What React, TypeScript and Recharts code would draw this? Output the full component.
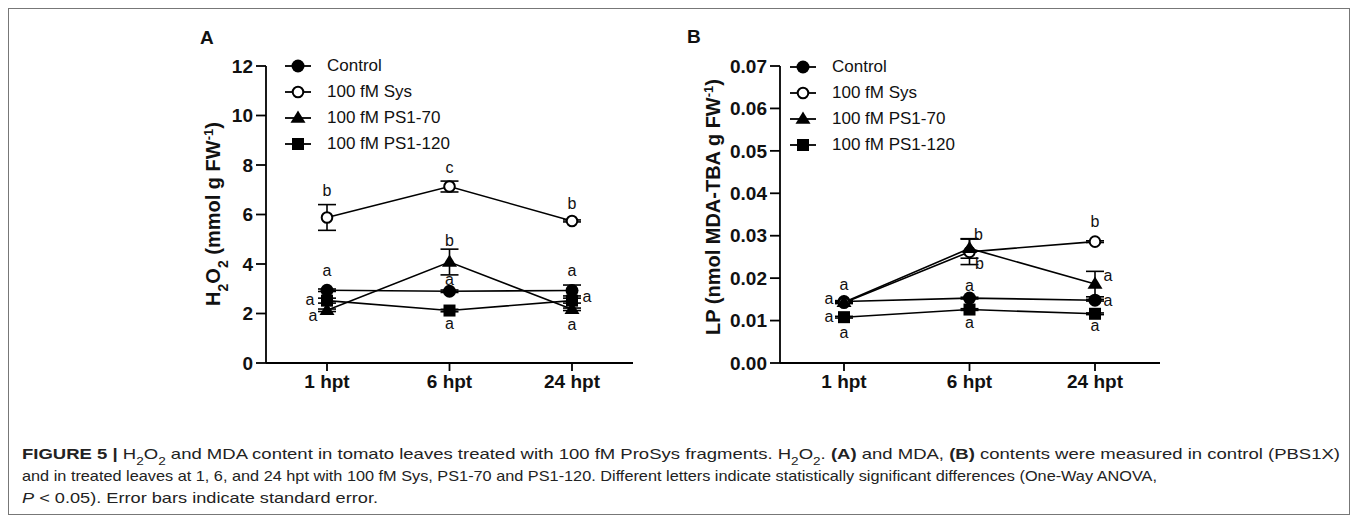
import React from "react";
import { LineChart, Line, XAxis, YAxis, ErrorBar, Legend, LabelList } from "recharts";

const times = ["1 hpt", "6 hpt", "24 hpt"];
const seriesNames = ["Control", "100 fM Sys", "100 fM PS1-70", "100 fM PS1-120"];

// panel A: H2O2 (mmol g FW-1)
const h2o2Ticks = [0, 2, 4, 6, 8, 10, 12];
const h2o2Control = [2.94, 2.9, 2.93];
const h2o2ControlSe = [0.05, 0.05, 0.22];
const h2o2Sys = [5.88, 7.13, 5.74];
const h2o2SysSe = [0.52, 0.22, 0.04];
const h2o2Ps70 = [2.13, 4.08, 2.17];
const h2o2Ps70Se = [0.05, 0.52, 0.05];
const h2o2Ps120 = [2.52, 2.12, 2.52];
const h2o2Ps120Se = [0.1, 0.05, 0.1];
const h2o2ControlLetters = ["a", "a", "a"];
const h2o2SysLetters = ["b", "c", "b"];
const h2o2Ps70Letters = ["a", "b", "a"];
const h2o2Ps120Letters = ["a", "a", "a"];

// panel B: LP (nmol MDA-TBA g FW-1)
const lpTicks = [0, 0.01, 0.02, 0.03, 0.04, 0.05, 0.06, 0.07];
const lpControl = [0.0145, 0.0153, 0.0148];
const lpControlSe = [0.0002, 0.0002, 0.0002];
const lpSys = [0.0142, 0.0262, 0.0286];
const lpSysSe = [0.0002, 0.003, 0.0002];
const lpPs70 = [0.0143, 0.027, 0.0186];
const lpPs70Se = [0.0002, 0.0023, 0.003];
const lpPs120 = [0.0108, 0.0126, 0.0116];
const lpPs120Se = [0.0002, 0.0002, 0.0002];
const lpControlLetters = ["a", "a", "a"];
const lpSysLetters = ["a", "b", "b"];
const lpPs70Letters = ["a", "b", "a"];
const lpPs120Letters = ["a", "a", "a"];

const FONT = "'Liberation Sans', Arial, Helvetica, sans-serif";
const keys = ["control", "sys", "ps70", "ps120"];
const shapes = ["circle", "open", "triangle", "square"];

const h2o2Data = times.map((time, i) => ({
  time,
  control: h2o2Control[i], controlSe: h2o2ControlSe[i], controlL: h2o2ControlLetters[i],
  sys: h2o2Sys[i], sysSe: h2o2SysSe[i], sysL: h2o2SysLetters[i],
  ps70: h2o2Ps70[i], ps70Se: h2o2Ps70Se[i], ps70L: h2o2Ps70Letters[i],
  ps120: h2o2Ps120[i], ps120Se: h2o2Ps120Se[i], ps120L: h2o2Ps120Letters[i],
}));

const lpData = times.map((time, i) => ({
  time,
  control: lpControl[i], controlSe: lpControlSe[i], controlL: lpControlLetters[i],
  sys: lpSys[i], sysSe: lpSysSe[i], sysL: lpSysLetters[i],
  ps70: lpPs70[i], ps70Se: lpPs70Se[i], ps70L: lpPs70Letters[i],
  ps120: lpPs120[i], ps120Se: lpPs120Se[i], ps120L: lpPs120Letters[i],
}));

// where each significance letter sits relative to its point [dx, dy]
const letterOffsetsA: Record<string, number[][]> = {
  control: [[0, -20], [0, -12], [0, -20]],
  sys: [[0, -27], [0, -19], [0, -17]],
  ps70: [[-14, 5], [0, -22], [0, 15]],
  ps120: [[-17, -1], [0, 13], [15, -4]],
};
const letterOffsetsB: Record<string, number[][]> = {
  control: [[0, -17], [0, -13], [13, 0]],
  sys: [[-15, -4], [10, 12], [0, -20]],
  ps70: [[-15, 14], [9, -14], [13, -9]],
  ps120: [[0, 15], [0, 13], [0, 12]],
};

function Marker({ shape, cx, cy }: { shape: string; cx: number; cy: number }) {
  if (shape === "circle") return <circle cx={cx} cy={cy} r={6.5} fill="#000" />;
  if (shape === "open") return <circle cx={cx} cy={cy} r={5.3} fill="#fff" stroke="#000" strokeWidth={2} />;
  if (shape === "triangle") {
    const s = 7.5;
    return <path d={`M${cx},${cy - s} L${cx + s},${cy + s * 0.62} L${cx - s},${cy + s * 0.62} Z`} fill="#000" />;
  }
  return <rect x={cx - 6} y={cy - 6} width={12} height={12} fill="#000" />;
}

function MarkerLegend() {
  return (
    <div style={{ fontFamily: FONT, fontSize: 17, color: "#111" }}>
      {seriesNames.map((name, i) => (
        <div key={name} style={{ display: "flex", alignItems: "center", height: 26 }}>
          <svg width={26} height={26}>
            <line x1={0} y1={13} x2={26} y2={13} stroke="#000" strokeWidth={1.8} />
            <Marker shape={shapes[i]} cx={13} cy={13} />
          </svg>
          <span style={{ marginLeft: 16, whiteSpace: "nowrap" }}>{name}</span>
        </div>
      ))}
    </div>
  );
}

const letterContent = (offs: number[][]) => (p: any) => {
  if (!p.value) return null;
  const o = offs[p.index] || [0, 0];
  const x = (p.x ?? p.viewBox?.x) + o[0];
  const y = (p.y ?? p.viewBox?.y) + o[1];
  return (
    <text x={x} y={y + 5.5} textAnchor="middle" fontSize={16} fontFamily={FONT} fill="#111">
      {p.value}
    </text>
  );
};

type PanelProps = {
  data: any[];
  ticks: number[];
  domain: [number, number];
  fmt: (v: number) => string;
  width: number;
  margin: { top: number; right: number; bottom: number; left: number };
  yWidth: number;
  xPad: { left: number; right: number };
  title: React.ReactNode;
  titleX: number;
  titleY: number;
  legendPos: { left: number; top: number };
  offsets: Record<string, number[][]>;
};

function Panel(props: PanelProps) {
  const tickStyle = { fontSize: 19, fontWeight: "bold" as const, fill: "#111", fontFamily: FONT };
  return (
    <LineChart width={props.width} height={440} data={props.data} margin={props.margin}>
      <XAxis
        dataKey="time"
        height={40}
        padding={props.xPad}
        tick={tickStyle}
        tickSize={8}
        tickMargin={4}
        axisLine={{ stroke: "#000", strokeWidth: 1.8 }}
        tickLine={{ stroke: "#000", strokeWidth: 1.8 }}
      />
      <YAxis
        width={props.yWidth}
        domain={props.domain}
        ticks={props.ticks}
        interval={0}
        tickFormatter={props.fmt}
        tick={tickStyle}
        tickSize={10}
        tickMargin={3}
        axisLine={{ stroke: "#000", strokeWidth: 1.8 }}
        tickLine={{ stroke: "#000", strokeWidth: 1.8 }}
        label={{
          content: () => (
            <text
              x={props.titleX}
              y={props.titleY}
              transform={`rotate(-90, ${props.titleX}, ${props.titleY})`}
              textAnchor="middle"
              fontSize={20}
              fontWeight="bold"
              fontFamily={FONT}
              fill="#111"
            >
              {props.title}
            </text>
          ),
        }}
      />
      <Legend
        layout="vertical"
        align="center"
        verticalAlign="middle"
        wrapperStyle={{ left: props.legendPos.left, top: props.legendPos.top, width: 200 }}
        content={() => <MarkerLegend />}
      />
      {keys.map((k, i) => (
        <Line
          key={k}
          dataKey={k}
          name={seriesNames[i]}
          stroke="#000"
          strokeWidth={1.6}
          isAnimationActive={false}
          dot={(d: any) => <Marker key={`${k}-${d.index}`} shape={shapes[i]} cx={d.cx} cy={d.cy} />}
          activeDot={false}
        >
          <ErrorBar dataKey={`${k}Se`} width={9} stroke="#000" strokeWidth={1.6} direction="y" />
          <LabelList dataKey={`${k}L`} content={letterContent(props.offsets[k])} />
        </Line>
      ))}
    </LineChart>
  );
}

const sub = (t: string, size = 12) => (
  <tspan baselineShift="sub" fontSize={size}>{t}</tspan>
);

export default function App() {
  return (
    <div style={{ position: "absolute", left: 0, top: 0, width: 1358, height: 521, background: "#fff", fontFamily: FONT }}>
      <svg width={1358} height={521} style={{ position: "absolute", left: 0, top: 0 }}>
        <rect x={8.5} y={8.5} width={1341} height={506} fill="none" stroke="#777" strokeWidth={1} />
        <text x={200} y={44} fontSize={19} fontWeight="bold" fontFamily={FONT} fill="#111">A</text>
        <text x={687} y={43} fontSize={19} fontWeight="bold" fontFamily={FONT} fill="#111">B</text>
        <g fontFamily={FONT} fontSize={15} fill="#222">
          <text x={22} y={459} textLength={1318} lengthAdjust="spacingAndGlyphs">
            <tspan fontWeight="bold">FIGURE 5 | </tspan>H{sub("2", 11)}O{sub("2", 11)} and MDA content in tomato leaves treated with 100 fM ProSys fragments. H{sub("2", 11)}O{sub("2", 11)}. <tspan fontWeight="bold">(A)</tspan> and MDA, <tspan fontWeight="bold">(B)</tspan> contents were measured in control (PBS1X)
          </text>
          <text x={22} y={481} textLength={1135} lengthAdjust="spacingAndGlyphs">
            and in treated leaves at 1, 6, and 24 hpt with 100 fM Sys, PS1-70 and PS1-120. Different letters indicate statistically significant differences (One-Way ANOVA,
          </text>
          <text x={22} y={503} textLength={356} lengthAdjust="spacingAndGlyphs">
            <tspan fontStyle="italic">P</tspan> {"<"} 0.05). Error bars indicate standard error.
          </text>
        </g>
      </svg>

      <div style={{ position: "absolute", left: 0, top: 0 }}>
        <Panel
          data={h2o2Data}
          ticks={h2o2Ticks}
          domain={[0, 12]}
          fmt={(v) => String(v)}
          width={680}
          margin={{ top: 66, right: 47, bottom: 37, left: 206 }}
          yWidth={60}
          xPad={{ left: 61, right: 61 }}
          title={
            <>
              H{sub("2", 14)}O{sub("2", 14)} (mmol g FW<tspan baselineShift="super" fontSize={13}>-1</tspan>)
            </>
          }
          titleX={220}
          titleY={214}
          legendPos={{ left: 285, top: 53 }}
          offsets={letterOffsetsA}
        />
      </div>

      <div style={{ position: "absolute", left: 680, top: 0 }}>
        <Panel
          data={lpData}
          ticks={lpTicks}
          domain={[0, 0.07]}
          fmt={(v) => v.toFixed(2)}
          width={678}
          margin={{ top: 66, right: 198, bottom: 37, left: 30 }}
          yWidth={70}
          xPad={{ left: 64, right: 65 }}
          title={
            <>
              LP (nmol MDA-TBA g FW<tspan baselineShift="super" fontSize={13}>-1</tspan>)
            </>
          }
          titleX={40}
          titleY={207}
          legendPos={{ left: 110, top: 54 }}
          offsets={letterOffsetsB}
        />
      </div>
    </div>
  );
}
